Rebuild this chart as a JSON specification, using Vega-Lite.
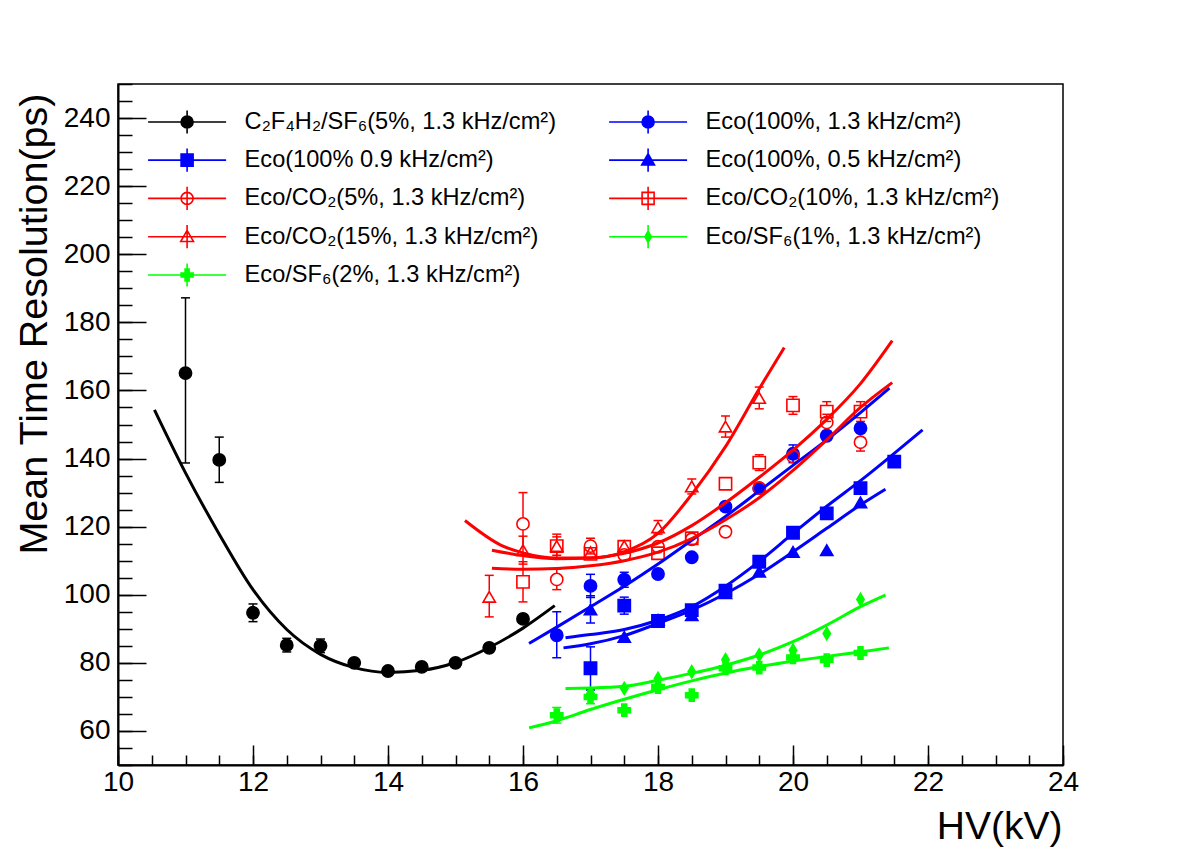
{
  "$schema": "https://vega.github.io/schema/vega-lite/v6.json",
  "width": 945,
  "height": 681,
  "autosize": "none",
  "padding": {"left": 118, "top": 84, "right": 119, "bottom": 85},
  "background": "white",
  "config": {
    "font": "Liberation Sans",
    "view": {"stroke": "black", "strokeWidth": 1.5},
    "axis": {"labelFont": "Liberation Sans", "titleFont": "Liberation Sans", "grid": false, "tickColor": "black", "domainColor": "black", "labelColor": "black", "titleColor": "black"},
    "legend": {"padding": 0}
  },
  "datasets": {
    "pts": [
      {"s": "c2f4h2_sf6_5", "hv": 11, "res": 165.1, "lo": 138.7, "hi": 187.2},
      {"s": "c2f4h2_sf6_5", "hv": 11.5, "res": 139.6, "lo": 133.0, "hi": 146.3},
      {"s": "c2f4h2_sf6_5", "hv": 12, "res": 94.7, "lo": 92.1, "hi": 97.3},
      {"s": "c2f4h2_sf6_5", "hv": 12.5, "res": 85.2, "lo": 83.2, "hi": 87.2},
      {"s": "c2f4h2_sf6_5", "hv": 13, "res": 85.0, "lo": 83.0, "hi": 87.0},
      {"s": "c2f4h2_sf6_5", "hv": 13.5, "res": 80.0},
      {"s": "c2f4h2_sf6_5", "hv": 14, "res": 77.6},
      {"s": "c2f4h2_sf6_5", "hv": 14.5, "res": 78.8},
      {"s": "c2f4h2_sf6_5", "hv": 15, "res": 80.0},
      {"s": "c2f4h2_sf6_5", "hv": 15.5, "res": 84.4},
      {"s": "c2f4h2_sf6_5", "hv": 16, "res": 92.9},

      {"s": "eco_13", "hv": 16.5, "res": 88.1, "lo": 81.5, "hi": 95.0},
      {"s": "eco_13", "hv": 17, "res": 102.6, "lo": 99.2, "hi": 106.0},
      {"s": "eco_13", "hv": 17.5, "res": 104.4, "lo": 102.2, "hi": 106.6},
      {"s": "eco_13", "hv": 18, "res": 106.1},
      {"s": "eco_13", "hv": 18.5, "res": 111.0},
      {"s": "eco_13", "hv": 19, "res": 125.9},
      {"s": "eco_13", "hv": 19.5, "res": 131.3},
      {"s": "eco_13", "hv": 20, "res": 141.4, "lo": 138.8, "hi": 144.0},
      {"s": "eco_13", "hv": 20.5, "res": 146.7},
      {"s": "eco_13", "hv": 21, "res": 148.9},

      {"s": "eco_09", "hv": 17, "res": 78.4, "lo": 72.1, "hi": 84.7},
      {"s": "eco_09", "hv": 17.5, "res": 96.8, "lo": 94.3, "hi": 99.3},
      {"s": "eco_09", "hv": 18, "res": 92.3},
      {"s": "eco_09", "hv": 18.5, "res": 95.5},
      {"s": "eco_09", "hv": 19, "res": 101.2},
      {"s": "eco_09", "hv": 19.5, "res": 109.7},
      {"s": "eco_09", "hv": 20, "res": 118.2},
      {"s": "eco_09", "hv": 20.5, "res": 123.9},
      {"s": "eco_09", "hv": 21, "res": 131.3},
      {"s": "eco_09", "hv": 21.5, "res": 139.1},

      {"s": "eco_05", "hv": 17, "res": 95.7, "lo": 91.7, "hi": 99.7},
      {"s": "eco_05", "hv": 17.5, "res": 87.6},
      {"s": "eco_05", "hv": 18, "res": 92.6},
      {"s": "eco_05", "hv": 18.5, "res": 94.0},
      {"s": "eco_05", "hv": 19, "res": 100.5},
      {"s": "eco_05", "hv": 19.5, "res": 106.8},
      {"s": "eco_05", "hv": 20, "res": 112.6},
      {"s": "eco_05", "hv": 20.5, "res": 113.1},
      {"s": "eco_05", "hv": 21, "res": 127.1},

      {"s": "co2_5", "hv": 16, "res": 120.8, "lo": 111.6, "hi": 130.0},
      {"s": "co2_5", "hv": 16.5, "res": 104.5, "lo": 101.5, "hi": 107.5},
      {"s": "co2_5", "hv": 17, "res": 114.3, "lo": 112.0, "hi": 116.6},
      {"s": "co2_5", "hv": 17.5, "res": 111.7},
      {"s": "co2_5", "hv": 18, "res": 114.1},
      {"s": "co2_5", "hv": 18.5, "res": 116.3},
      {"s": "co2_5", "hv": 19, "res": 118.5},
      {"s": "co2_5", "hv": 19.5, "res": 131.3},
      {"s": "co2_5", "hv": 20, "res": 140.6},
      {"s": "co2_5", "hv": 20.5, "res": 150.6, "lo": 148.2, "hi": 153.0},
      {"s": "co2_5", "hv": 21, "res": 144.8, "lo": 142.2, "hi": 147.4},

      {"s": "co2_10", "hv": 16, "res": 103.8, "lo": 97.9, "hi": 109.7},
      {"s": "co2_10", "hv": 16.5, "res": 114.3, "lo": 111.6, "hi": 117.0},
      {"s": "co2_10", "hv": 17, "res": 112.0},
      {"s": "co2_10", "hv": 17.5, "res": 114.1},
      {"s": "co2_10", "hv": 18, "res": 112.2},
      {"s": "co2_10", "hv": 18.5, "res": 116.6},
      {"s": "co2_10", "hv": 19, "res": 132.6},
      {"s": "co2_10", "hv": 19.5, "res": 138.8, "lo": 136.5, "hi": 141.1},
      {"s": "co2_10", "hv": 20, "res": 155.6, "lo": 153.0, "hi": 158.2},
      {"s": "co2_10", "hv": 20.5, "res": 153.8, "lo": 150.9, "hi": 156.7},
      {"s": "co2_10", "hv": 21, "res": 153.8, "lo": 150.9, "hi": 156.7},

      {"s": "co2_15", "hv": 15.5, "res": 99.4, "lo": 93.5, "hi": 105.7},
      {"s": "co2_15", "hv": 16, "res": 113.1, "lo": 109.0, "hi": 117.2},
      {"s": "co2_15", "hv": 16.5, "res": 114.3, "lo": 110.8, "hi": 117.8},
      {"s": "co2_15", "hv": 17, "res": 112.5},
      {"s": "co2_15", "hv": 17.5, "res": 114.3},
      {"s": "co2_15", "hv": 18, "res": 119.8, "lo": 117.8, "hi": 121.8},
      {"s": "co2_15", "hv": 18.5, "res": 131.8, "lo": 129.6, "hi": 134.0},
      {"s": "co2_15", "hv": 19, "res": 149.4, "lo": 146.3, "hi": 152.5},
      {"s": "co2_15", "hv": 19.5, "res": 157.8, "lo": 154.6, "hi": 161.0},

      {"s": "sf6_1", "hv": 17, "res": 71.0},
      {"s": "sf6_1", "hv": 17.5, "res": 72.5},
      {"s": "sf6_1", "hv": 18, "res": 75.4},
      {"s": "sf6_1", "hv": 18.5, "res": 77.4},
      {"s": "sf6_1", "hv": 19, "res": 80.9},
      {"s": "sf6_1", "hv": 19.5, "res": 82.3},
      {"s": "sf6_1", "hv": 20, "res": 83.7},
      {"s": "sf6_1", "hv": 20.5, "res": 88.6},
      {"s": "sf6_1", "hv": 21, "res": 98.6},

      {"s": "sf6_2", "hv": 16.5, "res": 64.6, "lo": 62.3, "hi": 66.9},
      {"s": "sf6_2", "hv": 17, "res": 70.0, "lo": 68.0, "hi": 72.0},
      {"s": "sf6_2", "hv": 17.5, "res": 66.1},
      {"s": "sf6_2", "hv": 18, "res": 72.9},
      {"s": "sf6_2", "hv": 18.5, "res": 70.5},
      {"s": "sf6_2", "hv": 19, "res": 78.4},
      {"s": "sf6_2", "hv": 19.5, "res": 78.6},
      {"s": "sf6_2", "hv": 20, "res": 81.6},
      {"s": "sf6_2", "hv": 20.5, "res": 80.8},
      {"s": "sf6_2", "hv": 21, "res": 82.9}
    ],
    "fits": [
      {"s": "c2f4h2_sf6_5", "hv": 10.54, "res": 154.3},
      {"s": "c2f4h2_sf6_5", "hv": 11, "res": 135.8},
      {"s": "c2f4h2_sf6_5", "hv": 11.5, "res": 117.8},
      {"s": "c2f4h2_sf6_5", "hv": 12, "res": 101.5},
      {"s": "c2f4h2_sf6_5", "hv": 12.5, "res": 89.8},
      {"s": "c2f4h2_sf6_5", "hv": 13, "res": 82.5},
      {"s": "c2f4h2_sf6_5", "hv": 13.5, "res": 78.6},
      {"s": "c2f4h2_sf6_5", "hv": 14, "res": 77.2},
      {"s": "c2f4h2_sf6_5", "hv": 14.5, "res": 77.8},
      {"s": "c2f4h2_sf6_5", "hv": 15, "res": 80.1},
      {"s": "c2f4h2_sf6_5", "hv": 15.5, "res": 84.5},
      {"s": "c2f4h2_sf6_5", "hv": 16, "res": 90.2},
      {"s": "c2f4h2_sf6_5", "hv": 16.47, "res": 96.8},

      {"s": "eco_13", "hv": 16.09, "res": 85.7},
      {"s": "eco_13", "hv": 16.5, "res": 90.5},
      {"s": "eco_13", "hv": 17, "res": 96.5},
      {"s": "eco_13", "hv": 17.5, "res": 102.5},
      {"s": "eco_13", "hv": 18, "res": 109.0},
      {"s": "eco_13", "hv": 18.5, "res": 116.0},
      {"s": "eco_13", "hv": 19, "res": 123.0},
      {"s": "eco_13", "hv": 19.5, "res": 130.5},
      {"s": "eco_13", "hv": 20, "res": 138.0},
      {"s": "eco_13", "hv": 20.5, "res": 145.5},
      {"s": "eco_13", "hv": 21, "res": 153.5},
      {"s": "eco_13", "hv": 21.43, "res": 160.7},

      {"s": "eco_09", "hv": 16.63, "res": 87.4},
      {"s": "eco_09", "hv": 17, "res": 88.3},
      {"s": "eco_09", "hv": 17.5, "res": 89.8},
      {"s": "eco_09", "hv": 18, "res": 92.5},
      {"s": "eco_09", "hv": 18.5, "res": 96.5},
      {"s": "eco_09", "hv": 19, "res": 102.5},
      {"s": "eco_09", "hv": 19.5, "res": 109.8},
      {"s": "eco_09", "hv": 20, "res": 118.0},
      {"s": "eco_09", "hv": 20.5, "res": 126.0},
      {"s": "eco_09", "hv": 21, "res": 133.5},
      {"s": "eco_09", "hv": 21.5, "res": 141.5},
      {"s": "eco_09", "hv": 21.92, "res": 148.4},

      {"s": "eco_05", "hv": 16.6, "res": 84.4},
      {"s": "eco_05", "hv": 17, "res": 85.6},
      {"s": "eco_05", "hv": 17.5, "res": 88.0},
      {"s": "eco_05", "hv": 18, "res": 91.6},
      {"s": "eco_05", "hv": 18.5, "res": 95.5},
      {"s": "eco_05", "hv": 19, "res": 100.3},
      {"s": "eco_05", "hv": 19.5, "res": 106.0},
      {"s": "eco_05", "hv": 20, "res": 112.6},
      {"s": "eco_05", "hv": 20.5, "res": 119.5},
      {"s": "eco_05", "hv": 21, "res": 126.4},
      {"s": "eco_05", "hv": 21.37, "res": 131.0},

      {"s": "co2_5", "hv": 15.54, "res": 107.8},
      {"s": "co2_5", "hv": 16, "res": 107.5},
      {"s": "co2_5", "hv": 16.5, "res": 107.7},
      {"s": "co2_5", "hv": 17, "res": 108.5},
      {"s": "co2_5", "hv": 17.5, "res": 110.0},
      {"s": "co2_5", "hv": 18, "res": 112.5},
      {"s": "co2_5", "hv": 18.5, "res": 116.5},
      {"s": "co2_5", "hv": 19, "res": 122.0},
      {"s": "co2_5", "hv": 19.5, "res": 128.5},
      {"s": "co2_5", "hv": 20, "res": 136.5},
      {"s": "co2_5", "hv": 20.5, "res": 145.5},
      {"s": "co2_5", "hv": 21, "res": 155.0},
      {"s": "co2_5", "hv": 21.47, "res": 162.3},

      {"s": "co2_10", "hv": 15.54, "res": 113.1},
      {"s": "co2_10", "hv": 16, "res": 111.5},
      {"s": "co2_10", "hv": 16.5, "res": 110.6},
      {"s": "co2_10", "hv": 17, "res": 110.8},
      {"s": "co2_10", "hv": 17.5, "res": 112.2},
      {"s": "co2_10", "hv": 18, "res": 115.2},
      {"s": "co2_10", "hv": 18.5, "res": 120.3},
      {"s": "co2_10", "hv": 19, "res": 127.0},
      {"s": "co2_10", "hv": 19.5, "res": 134.5},
      {"s": "co2_10", "hv": 20, "res": 142.5},
      {"s": "co2_10", "hv": 20.5, "res": 151.5},
      {"s": "co2_10", "hv": 21, "res": 162.0},
      {"s": "co2_10", "hv": 21.47, "res": 174.6},

      {"s": "co2_15", "hv": 15.14, "res": 121.8},
      {"s": "co2_15", "hv": 15.67, "res": 114.6},
      {"s": "co2_15", "hv": 16, "res": 112.3},
      {"s": "co2_15", "hv": 16.5, "res": 110.8},
      {"s": "co2_15", "hv": 17, "res": 110.8},
      {"s": "co2_15", "hv": 17.5, "res": 112.6},
      {"s": "co2_15", "hv": 18, "res": 118.0},
      {"s": "co2_15", "hv": 18.5, "res": 129.5},
      {"s": "co2_15", "hv": 19, "res": 143.5},
      {"s": "co2_15", "hv": 19.5, "res": 160.5},
      {"s": "co2_15", "hv": 19.87, "res": 172.6},

      {"s": "sf6_1", "hv": 16.63, "res": 72.5},
      {"s": "sf6_1", "hv": 17, "res": 72.6},
      {"s": "sf6_1", "hv": 17.5, "res": 73.1},
      {"s": "sf6_1", "hv": 18, "res": 74.9},
      {"s": "sf6_1", "hv": 18.5, "res": 76.9},
      {"s": "sf6_1", "hv": 19, "res": 79.3},
      {"s": "sf6_1", "hv": 19.5, "res": 82.3},
      {"s": "sf6_1", "hv": 20, "res": 86.2},
      {"s": "sf6_1", "hv": 20.5, "res": 91.1},
      {"s": "sf6_1", "hv": 21, "res": 96.5},
      {"s": "sf6_1", "hv": 21.37, "res": 99.9},

      {"s": "sf6_2", "hv": 16.09, "res": 60.9},
      {"s": "sf6_2", "hv": 16.5, "res": 63.0},
      {"s": "sf6_2", "hv": 17, "res": 66.3},
      {"s": "sf6_2", "hv": 17.5, "res": 69.3},
      {"s": "sf6_2", "hv": 18, "res": 72.1},
      {"s": "sf6_2", "hv": 18.5, "res": 74.7},
      {"s": "sf6_2", "hv": 19, "res": 77.0},
      {"s": "sf6_2", "hv": 19.5, "res": 78.9},
      {"s": "sf6_2", "hv": 20, "res": 80.5},
      {"s": "sf6_2", "hv": 20.5, "res": 81.9},
      {"s": "sf6_2", "hv": 21, "res": 83.2},
      {"s": "sf6_2", "hv": 21.42, "res": 84.4}
    ]
  },
  "resolve": {
    "axis": {"x": "independent", "y": "independent"},
    "scale": {"stroke": "independent", "fill": "independent", "shape": "independent"}
  },
  "layer": [
    {
      "description": "upper half of each error bar, drawn from the marker edge; carries the labelled axes and major ticks",
      "data": {"name": "pts"},
      "transform": [{"filter": "isValid(datum.hi)"}],
      "mark": {"type": "rule", "strokeWidth": 1.5, "yOffset": -6},
      "encoding": {
        "x": {
          "field": "hv", "type": "quantitative",
          "scale": {"domain": [10, 24], "nice": false, "zero": false},
          "axis": {
            "orient": "bottom", "values": [10, 12, 14, 16, 18, 20, 22, 24], "format": "d",
            "tickSize": -20, "tickWidth": 1.5, "domainWidth": 2,
            "labelPadding": 23, "labelFontSize": 28, "labelFlush": false, "labelOverlap": false, "labelBaseline": "top",
            "title": "HV(kV)", "titleFontSize": 39, "titleFontWeight": "normal",
            "titleX": 944, "titleY": 73, "titleAlign": "right", "titleBaseline": "alphabetic", "titleAnchor": "end"
          }
        },
        "y": {
          "field": "res", "type": "quantitative",
          "scale": {"domain": [50, 250], "nice": false, "zero": false},
          "axis": {
            "orient": "left", "values": [60, 80, 100, 120, 140, 160, 180, 200, 220, 240], "format": "d",
            "tickSize": -28, "tickWidth": 1.5, "domainWidth": 2,
            "labelPadding": 36, "labelFontSize": 28, "labelFlush": false, "labelOverlap": false,
            "title": "Mean Time Resolution(ps)", "titleFontSize": 39.5, "titleFontWeight": "normal",
            "titleX": -72, "titleY": 9, "titleAngle": -90, "titleAlign": "right", "titleBaseline": "alphabetic"
          }
        },
        "y2": {"field": "hi"},
        "stroke": {
          "field": "s", "type": "nominal", "legend": null,
          "scale": {
            "domain": ["c2f4h2_sf6_5", "eco_09", "co2_5", "co2_15", "sf6_2", "eco_13", "eco_05", "co2_10", "sf6_1"],
            "range": ["#000000", "#0000ff", "#ff0000", "#ff0000", "#00ff00", "#0000ff", "#0000ff", "#ff0000", "#00ff00"]
          }
        }
      }
    },
    {
      "description": "lower half of each error bar; carries the minor ticks",
      "data": {"name": "pts"},
      "transform": [{"filter": "isValid(datum.lo)"}],
      "mark": {"type": "rule", "strokeWidth": 1.5, "yOffset": 6},
      "encoding": {
        "x": {
          "field": "hv", "type": "quantitative",
          "axis": {
            "orient": "bottom",
            "values": [10, 10.5, 11, 11.5, 12, 12.5, 13, 13.5, 14, 14.5, 15, 15.5, 16, 16.5, 17, 17.5, 18, 18.5, 19, 19.5, 20, 20.5, 21, 21.5, 22, 22.5, 23, 23.5, 24],
            "tickSize": -10, "tickWidth": 1.5, "labels": false, "domain": false, "title": null
          }
        },
        "y": {
          "field": "res", "type": "quantitative",
          "axis": {
            "orient": "left",
            "values": [50, 55, 60, 65, 70, 75, 80, 85, 90, 95, 100, 105, 110, 115, 120, 125, 130, 135, 140, 145, 150, 155, 160, 165, 170, 175, 180, 185, 190, 195, 200, 205, 210, 215, 220, 225, 230, 235, 240, 245, 250],
            "tickSize": -14, "tickWidth": 1.5, "labels": false, "domain": false, "title": null
          }
        },
        "y2": {"field": "lo"},
        "stroke": {
          "field": "s", "type": "nominal", "legend": null,
          "scale": {
            "domain": ["c2f4h2_sf6_5", "eco_09", "co2_5", "co2_15", "sf6_2", "eco_13", "eco_05", "co2_10", "sf6_1"],
            "range": ["#000000", "#0000ff", "#ff0000", "#ff0000", "#00ff00", "#0000ff", "#0000ff", "#ff0000", "#00ff00"]
          }
        }
      }
    },
    {
      "description": "error-bar end caps at the upper value",
      "data": {"name": "pts"},
      "transform": [{"filter": "isValid(datum.hi)"}],
      "mark": {"type": "rule", "strokeWidth": 1.5, "xOffset": -4.5, "x2Offset": 4.5},
      "encoding": {
        "x": {"field": "hv", "type": "quantitative", "axis": null},
        "x2": {"field": "hv"},
        "y": {"field": "hi", "type": "quantitative", "axis": null},
        "stroke": {
          "field": "s", "type": "nominal", "legend": null,
          "scale": {
            "domain": ["c2f4h2_sf6_5", "eco_09", "co2_5", "co2_15", "sf6_2", "eco_13", "eco_05", "co2_10", "sf6_1"],
            "range": ["#000000", "#0000ff", "#ff0000", "#ff0000", "#00ff00", "#0000ff", "#0000ff", "#ff0000", "#00ff00"]
          }
        }
      }
    },
    {
      "description": "error-bar end caps at the lower value",
      "data": {"name": "pts"},
      "transform": [{"filter": "isValid(datum.lo)"}],
      "mark": {"type": "rule", "strokeWidth": 1.5, "xOffset": -4.5, "x2Offset": 4.5},
      "encoding": {
        "x": {"field": "hv", "type": "quantitative", "axis": null},
        "x2": {"field": "hv"},
        "y": {"field": "lo", "type": "quantitative", "axis": null},
        "stroke": {
          "field": "s", "type": "nominal", "legend": null,
          "scale": {
            "domain": ["c2f4h2_sf6_5", "eco_09", "co2_5", "co2_15", "sf6_2", "eco_13", "eco_05", "co2_10", "sf6_1"],
            "range": ["#000000", "#0000ff", "#ff0000", "#ff0000", "#00ff00", "#0000ff", "#0000ff", "#ff0000", "#00ff00"]
          }
        }
      }
    },
    {
      "description": "measured points",
      "data": {"name": "pts"},
      "mark": {"type": "point", "size": 150, "strokeWidth": 1.6, "opacity": 1},
      "encoding": {
        "x": {"field": "hv", "type": "quantitative", "axis": null},
        "y": {"field": "res", "type": "quantitative", "axis": null},
        "stroke": {
          "field": "s", "type": "nominal", "legend": null,
          "scale": {
            "domain": ["c2f4h2_sf6_5", "eco_09", "co2_5", "co2_15", "sf6_2", "eco_13", "eco_05", "co2_10", "sf6_1"],
            "range": ["#000000", "#0000ff", "#ff0000", "#ff0000", "#00ff00", "#0000ff", "#0000ff", "#ff0000", "#00ff00"]
          }
        },
        "fill": {
          "field": "s", "type": "nominal", "legend": null,
          "scale": {
            "domain": ["c2f4h2_sf6_5", "eco_09", "co2_5", "co2_15", "sf6_2", "eco_13", "eco_05", "co2_10", "sf6_1"],
            "range": ["#000000", "#0000ff", "transparent", "transparent", "#00ff00", "#0000ff", "#0000ff", "transparent", "#00ff00"]
          }
        },
        "shape": {
          "field": "s", "type": "nominal", "legend": null,
          "scale": {
            "domain": ["c2f4h2_sf6_5", "eco_09", "co2_5", "co2_15", "sf6_2", "eco_13", "eco_05", "co2_10", "sf6_1"],
            "range": ["circle", "square", "circle", "triangle-up", "cross", "circle", "triangle-up", "square", "M0,-1L0.6,0L0,1L-0.6,0Z"]
          }
        }
      }
    },
    {
      "description": "fitted curves",
      "data": {"name": "fits"},
      "mark": {"type": "line", "strokeWidth": 3, "interpolate": "monotone"},
      "encoding": {
        "x": {"field": "hv", "type": "quantitative", "axis": null},
        "y": {"field": "res", "type": "quantitative", "axis": null},
        "stroke": {
          "field": "s", "type": "nominal", "legend": null,
          "scale": {
            "domain": ["c2f4h2_sf6_5", "eco_09", "co2_5", "co2_15", "sf6_2", "eco_13", "eco_05", "co2_10", "sf6_1"],
            "range": ["#000000", "#0000ff", "#ff0000", "#ff0000", "#00ff00", "#0000ff", "#0000ff", "#ff0000", "#00ff00"]
          }
        }
      }
    },
    {
      "description": "legend key: no rows are drawn here; its scales give each entry a line, an error bar and the series marker, listed column by column",
      "data": {"name": "pts"},
      "transform": [{"filter": "false"}],
      "mark": {"type": "point", "size": 64, "strokeWidth": 1.6, "opacity": 1},
      "encoding": {
        "x": {"field": "hv", "type": "quantitative", "axis": null},
        "y": {"field": "res", "type": "quantitative", "axis": null},
        "stroke": {
          "field": "s", "type": "nominal",
          "scale": {
            "domain": ["c2f4h2_sf6_5", "eco_09", "co2_5", "co2_15", "sf6_2", "eco_13", "eco_05", "co2_10", "sf6_1"],
            "range": ["#000000", "#0000ff", "#ff0000", "#ff0000", "#00ff00", "#0000ff", "#0000ff", "#ff0000", "#00ff00"]
          },
          "legend": {
            "title": null, "orient": "none", "legendX": 57.3, "legendY": 26, "columns": 2, "direction": "vertical",
            "symbolSize": 64, "symbolStrokeWidth": 1.6, "labelOffset": 45.7,
            "labelFontSize": 23.6, "labelFont": "Liberation Sans", "labelColor": "black", "labelLimit": 0,
            "rowPadding": 8.3, "columnPadding": 49,
            "labelExpr": "['C₂F₄H₂/SF₆(5%, 1.3 kHz/cm²)', 'Eco(100% 0.9 kHz/cm²)', 'Eco/CO₂(5%, 1.3 kHz/cm²)', 'Eco/CO₂(15%, 1.3 kHz/cm²)', 'Eco/SF₆(2%, 1.3 kHz/cm²)', 'Eco(100%, 1.3 kHz/cm²)', 'Eco(100%, 0.5 kHz/cm²)', 'Eco/CO₂(10%, 1.3 kHz/cm²)', 'Eco/SF₆(1%, 1.3 kHz/cm²)'][indexof(['c2f4h2_sf6_5', 'eco_09', 'co2_5', 'co2_15', 'sf6_2', 'eco_13', 'eco_05', 'co2_10', 'sf6_1'], datum.value)]"
          }
        },
        "fill": {
          "field": "s", "type": "nominal",
          "scale": {
            "domain": ["c2f4h2_sf6_5", "eco_09", "co2_5", "co2_15", "sf6_2", "eco_13", "eco_05", "co2_10", "sf6_1"],
            "range": ["#000000", "#0000ff", "transparent", "transparent", "#00ff00", "#0000ff", "#0000ff", "transparent", "#00ff00"]
          }
        },
        "shape": {
          "field": "s", "type": "nominal",
          "scale": {
            "domain": ["c2f4h2_sf6_5", "eco_09", "co2_5", "co2_15", "sf6_2", "eco_13", "eco_05", "co2_10", "sf6_1"],
            "range": [
              "M-9.75,0L9.75,0M0,-2.9L0,2.9M1.5,0A1.5,1.5,0,1,1,-1.5,0A1.5,1.5,0,1,1,1.5,0Z",
              "M-9.75,0L9.75,0M0,-2.9L0,2.9M-1.5,-1.5L1.5,-1.5L1.5,1.5L-1.5,1.5Z",
              "M-9.75,0L9.75,0M0,-2.9L0,2.9M1.5,0A1.5,1.5,0,1,1,-1.5,0A1.5,1.5,0,1,1,1.5,0Z",
              "M-9.75,0L9.75,0M0,-2.9L0,2.9M0,-1.6L1.6,1.2L-1.6,1.2Z",
              "M-9.75,0L9.75,0M0,-2.9L0,2.9M-0.5,-1.5L0.5,-1.5L0.5,-0.5L1.5,-0.5L1.5,0.5L0.5,0.5L0.5,1.5L-0.5,1.5L-0.5,0.5L-1.5,0.5L-1.5,-0.5L-0.5,-0.5Z",
              "M-9.75,0L9.75,0M0,-2.9L0,2.9M1.5,0A1.5,1.5,0,1,1,-1.5,0A1.5,1.5,0,1,1,1.5,0Z",
              "M-9.75,0L9.75,0M0,-2.9L0,2.9M0,-1.6L1.6,1.2L-1.6,1.2Z",
              "M-9.75,0L9.75,0M0,-2.9L0,2.9M-1.5,-1.5L1.5,-1.5L1.5,1.5L-1.5,1.5Z",
              "M-9.75,0L9.75,0M0,-2.9L0,2.9M0,-1.4L0.8,0L0,1.4L-0.8,0Z"
            ]
          }
        }
      }
    }
  ]
}
